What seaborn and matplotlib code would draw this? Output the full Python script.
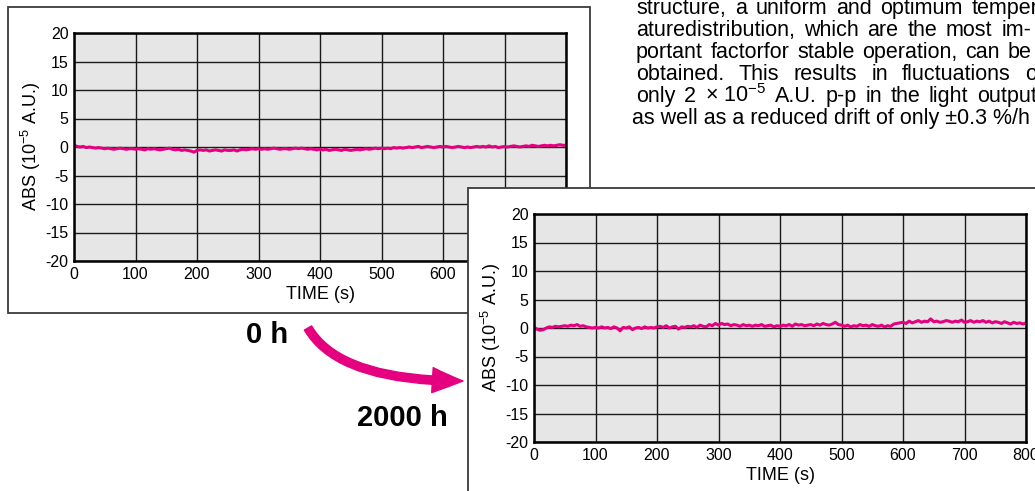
import numpy as np
import matplotlib
matplotlib.use("Agg")
import matplotlib.pyplot as plt
import seaborn as sns
from matplotlib.patches import Rectangle, FancyArrowPatch

# Data (5 s steps)
time_s = np.arange(0, 801, 5)

abs_0h = [
    0.3, 0.1, 0.0, 0.1, -0.1, 0.0, -0.1, -0.2, -0.1, -0.2, -0.3,
    -0.2, -0.3, -0.4, -0.3, -0.2, -0.3, -0.4, -0.3, -0.3, -0.4,
    -0.3, -0.4, -0.5, -0.3, -0.4, -0.3, -0.4, -0.5, -0.4, -0.3,
    -0.2, -0.4, -0.5, -0.4, -0.6, -0.5, -0.6, -0.7, -0.9, -0.6,
    -0.5, -0.6, -0.5, -0.7, -0.6, -0.5, -0.6, -0.7, -0.5, -0.6,
    -0.6, -0.5, -0.7, -0.5, -0.4, -0.5, -0.4, -0.3, -0.4, -0.3,
    -0.4, -0.3, -0.4, -0.3, -0.2, -0.3, -0.4, -0.3, -0.3, -0.4,
    -0.3, -0.2, -0.3, -0.2, -0.3, -0.4, -0.3, -0.4, -0.5, -0.4,
    -0.5, -0.4, -0.6, -0.5, -0.4, -0.5, -0.6, -0.4, -0.5, -0.6,
    -0.5, -0.4, -0.5, -0.4, -0.3, -0.4, -0.3, -0.2, -0.3, -0.2,
    -0.3, -0.2, -0.3, -0.1, -0.2, -0.1, -0.2, -0.1, 0.0, -0.1,
    0.0, 0.1, -0.1, 0.0, 0.1, 0.0, -0.1, 0.0, 0.1, 0.0,
    0.1, 0.0, -0.1, 0.0, 0.1, 0.0, -0.1, 0.0, -0.1, 0.0,
    0.1, 0.0, 0.1, 0.0, 0.2, 0.0, 0.1, -0.1, 0.0, 0.1,
    0.0, 0.1, 0.2, 0.1, 0.0, 0.1, 0.2, 0.1, 0.3, 0.2,
    0.1, 0.2, 0.3, 0.2, 0.3, 0.2, 0.3, 0.4, 0.3, 0.3,
]

abs_2000h = [
    0.1, -0.2, -0.4, -0.3, 0.0, 0.2, 0.1, 0.3, 0.2, 0.3, 0.4,
    0.3, 0.5, 0.4, 0.6, 0.3, 0.4, 0.2, 0.1, 0.0, 0.1,
    0.0, 0.2, 0.0, 0.1, -0.1, 0.2, 0.0, -0.5, 0.1, 0.0,
    0.2, -0.3, 0.0, 0.1, -0.1, 0.2, 0.0, 0.1, 0.0, 0.2,
    0.3, 0.1, 0.4, 0.0, 0.2, 0.3, -0.2, 0.2, 0.1, 0.3,
    0.2, 0.4, 0.1, 0.5, 0.3, 0.2, 0.6, 0.4, 0.8, 0.5,
    0.8, 0.6, 0.7, 0.4, 0.6, 0.5, 0.3, 0.6, 0.4, 0.5,
    0.3, 0.5, 0.4, 0.6, 0.3, 0.4, 0.5, 0.2, 0.4, 0.3,
    0.5, 0.4, 0.6, 0.3, 0.7, 0.5, 0.6, 0.4, 0.5, 0.6,
    0.4, 0.7, 0.5, 0.8, 0.6, 0.5, 0.7, 1.0, 0.6, 0.5,
    0.3, 0.5, 0.2, 0.4, 0.3, 0.6, 0.4, 0.5, 0.3, 0.6,
    0.4, 0.3, 0.5, 0.2, 0.4, 0.3, 0.7, 0.8, 0.9, 1.0,
    0.8, 1.2, 0.9, 1.1, 1.3, 1.0, 1.2, 1.1, 1.6, 1.1,
    1.2, 1.0, 1.1, 1.3, 1.2, 1.0, 1.2, 1.1, 1.4, 1.0,
    1.1, 1.3, 1.0, 1.2, 1.1, 1.3, 1.0, 1.2, 0.9, 1.1,
    1.0, 0.8, 1.1, 0.9, 0.7, 1.0, 0.8, 0.9, 0.7, 0.9,
]

x_ticks = [0, 100, 200, 300, 400, 500, 600, 700, 800]
y_ticks = [-20, -15, -10, -5, 0, 5, 10, 15, 20]
x_label = "TIME (s)"
y_label = "ABS (10$^{\\mathregular{-5}}$ A.U.)"
label_start = "0 h"
label_end = "2000 h"

body_lines = [
    "structure, a uniform and optimum temper-",
    "aturedistribution, which are  the most im-",
    "portant factorfor stable operation, can be",
    "obtained. This results in fluctuations of",
    "only 2 \u00d7 10$^{\\mathregular{-5}}$ A.U. p-p in the light output",
    "as well as a reduced drift of only \u00b10.3 %/h",
]

PINK = "#e5007f"
W, H = 1035, 491

sns.set_style("whitegrid", {
    "axes.facecolor": "#e6e6e6",
    "axes.edgecolor": "black",
    "grid.color": "#1a1a1a",
    "text.color": "black",
    "axes.labelcolor": "black",
    "xtick.color": "black",
    "ytick.color": "black",
})
plt.rcParams["font.family"] = ["Liberation Sans", "DejaVu Sans"]
plt.rcParams["axes.unicode_minus"] = False


def fx(x):
    return x / W


def fy(y):
    return 1 - y / H


fig = plt.figure(figsize=(W / 100, H / 100), dpi=100)


def frame(left, top, right, bottom, z):
    r = Rectangle((fx(left), fy(bottom)), (right - left) / W, (bottom - top) / H,
                  transform=fig.transFigure, facecolor="white",
                  edgecolor="#3a3a3a", linewidth=1.3, zorder=z)
    fig.add_artist(r)


def panel(left, top, values, z):
    ax = fig.add_axes([fx(left), fy(top + 228), 492 / W, 228 / H])
    ax.set_zorder(z)
    sns.lineplot(x=time_s, y=values, ax=ax, color=PINK, linewidth=2.2)
    ax.set_xlim(0, 800)
    ax.set_ylim(-20, 20)
    ax.set_xticks(x_ticks)
    ax.set_yticks(y_ticks)
    ax.grid(True, color="#1a1a1a", linewidth=1.0)
    for s in ax.spines.values():
        s.set_linewidth(1.8)
        s.set_color("black")
    ax.tick_params(length=0, pad=4, labelsize=11.5, colors="black")
    ax.set_xlabel(x_label, fontsize=13, labelpad=3, color="black")
    ax.set_ylabel(y_label, fontsize=13, labelpad=2, color="black")
    return ax


frame(8, 7, 590, 313, -5)
ax1 = panel(74, 33, abs_0h, -4)
frame(468, 188, 1050, 496, -3)
ax2 = panel(534, 214, abs_2000h, -2)

# curved arrow between the panels
arrow = FancyArrowPatch(
    (fx(308), fy(328)), (fx(463), fy(381)),
    transform=fig.transFigure,
    connectionstyle="angle3,angleA=-60,angleB=0",
    arrowstyle="simple,head_length=2.2,head_width=1.8,tail_width=0.6",
    mutation_scale=10, color=PINK, shrinkA=0, shrinkB=0, zorder=5,
)
fig.add_artist(arrow)

fig.text(fx(246), fy(343), label_start, fontsize=21, fontweight="bold",
         ha="left", va="baseline", color="black", zorder=6)
fig.text(fx(357), fy(426), label_end, fontsize=21, fontweight="bold",
         ha="left", va="baseline", color="black", zorder=6)

# justified body text on the top right (page is cut off at the right edge)
renderer = fig.canvas.get_renderer()
x_left = 636
right_edges = [1046, 1031, 1031, 1043, 1037]
baselines = [14, 36, 58, 80, 102, 124]
body_size = 15.5
for i, line in enumerate(body_lines):
    y = fy(baselines[i])
    if i == len(body_lines) - 1:
        fig.text(fx(632), y, line, fontsize=body_size, va="baseline", color="black")
        continue
    words = [w for w in line.replace("\u00d7 10", "\u00d7\u00a010").split(" ") if w]
    words = [w.replace("\u00a0", " ") for w in words]
    texts = [fig.text(0, y, w, fontsize=body_size, va="baseline", color="black")
             for w in words]
    widths = [t.get_window_extent(renderer=renderer).width for t in texts]
    gap = (right_edges[i] - x_left - sum(widths)) / (len(words) - 1)
    x = x_left
    for t, wdt in zip(texts, widths):
        t.set_x(fx(x))
        x += wdt + gap

fig.savefig("out.png", dpi=100)
